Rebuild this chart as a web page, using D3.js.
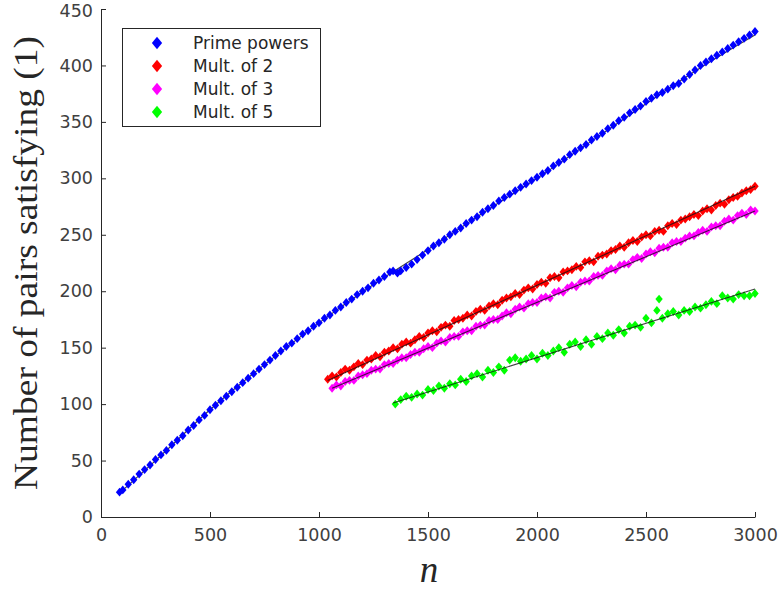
<!DOCTYPE html>
<html><head><meta charset="utf-8">
<script src="https://cdn.jsdelivr.net/npm/d3@7"></script>
<style>body{margin:0;background:#fff}</style>
</head><body><svg id="c" width="780" height="592"></svg>
<script>
const xTicks = [0, 500, 1000, 1500, 2000, 2500, 3000];
const yTicks = [0, 50, 100, 150, 200, 250, 300, 350, 400, 450];
const legendLabels = ["Prime powers", "Mult. of 2", "Mult. of 3", "Mult. of 5"];
const seriesColors = ["#0000ff", "#ff0000", "#ff00ff", "#00ff00"];
const xLabel = "n";
const yLabel = "Number of pairs satisfying (1)";

const primePowers = [[85,22],[100,24],[125,29],[150,33],[175,38],[200,42],[225,46],[250,51],[275,55],[300,59],[325,64],[350,68],[375,72],[400,77],[425,81],[450,86],[475,90],[500,95],[525,99],[550,103],[575,107],[600,111],[625,115],[650,119],[675,123],[700,127],[725,131],[750,135],[775,139],[800,143],[825,147],[850,151],[875,154],[900,158],[925,162],[950,165],[975,169],[1000,172],[1025,176],[1050,179],[1075,183],[1100,186],[1125,190],[1150,193],[1175,197],[1200,200],[1225,203],[1250,207],[1275,210],[1300,213],[1325,217],[1340,218],[1360,216],[1375,218],[1400,221],[1425,224],[1450,228],[1475,232],[1500,236],[1525,240],[1550,243],[1575,246],[1600,250],[1625,253],[1650,256],[1675,260],[1700,263],[1725,266],[1750,270],[1775,273],[1800,276],[1825,280],[1850,283],[1875,286],[1900,289],[1925,292],[1950,295],[1975,298],[2000,301],[2025,304],[2050,307],[2075,311],[2100,314],[2125,317],[2150,321],[2175,324],[2200,327],[2225,330],[2250,334],[2275,337],[2300,340],[2325,344],[2350,347],[2375,351],[2400,354],[2425,358],[2450,361],[2475,364],[2500,368],[2525,371],[2550,374],[2575,376],[2600,379],[2625,382],[2650,384],[2675,388],[2700,392],[2725,396],[2750,400],[2775,403],[2800,406],[2825,409],[2850,412],[2875,415],[2900,418],[2925,421],[2950,424],[2975,427],[3000,430]];

const mult2 = [[1040,122],[1060,125],[1080,124],[1100,128],[1120,131],[1140,130],[1160,133],[1180,136],[1200,135],[1220,139],[1240,140],[1260,143],[1280,142],[1300,146],[1320,147],[1340,150],[1360,149],[1380,153],[1400,155],[1420,154],[1440,157],[1460,160],[1480,159],[1500,163],[1520,165],[1540,164],[1560,168],[1580,170],[1600,169],[1620,174],[1640,175],[1660,176],[1680,179],[1700,178],[1720,182],[1740,184],[1760,183],[1780,187],[1800,189],[1820,188],[1840,192],[1860,194],[1880,195],[1900,198],[1920,197],[1940,201],[1960,203],[1980,202],[2000,206],[2020,208],[2040,207],[2060,212],[2080,213],[2100,212],[2120,217],[2140,218],[2160,219],[2180,222],[2200,221],[2220,226],[2240,227],[2260,226],[2280,231],[2300,232],[2320,233],[2340,236],[2360,237],[2380,240],[2400,239],[2420,243],[2440,245],[2460,244],[2480,248],[2500,250],[2520,249],[2540,253],[2560,254],[2580,253],[2600,258],[2620,260],[2640,259],[2660,263],[2680,264],[2700,266],[2720,268],[2740,267],[2760,271],[2780,273],[2800,272],[2820,276],[2840,278],[2860,277],[2880,281],[2900,283],[2920,284],[2940,287],[2960,289],[2980,290],[3000,293]];

const mult3 = [[1060,114],[1080,117],[1100,116],[1120,120],[1140,121],[1160,121],[1180,125],[1200,126],[1220,127],[1240,130],[1260,131],[1280,131],[1300,135],[1320,136],[1340,136],[1360,139],[1380,141],[1400,141],[1420,144],[1440,146],[1460,146],[1480,149],[1500,151],[1520,150],[1540,154],[1560,156],[1580,155],[1600,159],[1620,160],[1640,160],[1660,164],[1680,165],[1700,165],[1720,169],[1740,170],[1760,170],[1780,174],[1800,175],[1820,175],[1840,178],[1860,181],[1880,180],[1900,184],[1920,186],[1940,185],[1960,189],[1980,190],[2000,190],[2020,194],[2040,195],[2060,194],[2080,199],[2100,200],[2120,199],[2140,203],[2160,205],[2180,204],[2200,208],[2220,209],[2240,209],[2260,213],[2280,214],[2300,214],[2320,218],[2340,220],[2360,219],[2380,223],[2400,224],[2420,224],[2440,228],[2460,230],[2480,229],[2500,233],[2520,235],[2540,234],[2560,238],[2580,239],[2600,239],[2620,243],[2640,244],[2660,244],[2680,247],[2700,249],[2720,249],[2740,252],[2760,254],[2780,253],[2800,257],[2820,258],[2840,258],[2860,262],[2880,264],[2900,263],[2920,267],[2940,269],[2960,268],[2980,272],[3000,271]];

const mult5 = [[1350,100],[1375,104],[1400,107],[1425,106],[1450,109],[1475,108],[1500,113],[1525,112],[1550,116],[1575,114],[1600,118],[1625,117],[1650,122],[1675,120],[1700,125],[1725,127],[1750,124],[1775,130],[1800,128],[1825,133],[1850,130],[1875,139],[1900,141],[1925,138],[1950,140],[1975,143],[2000,140],[2025,145],[2050,143],[2075,147],[2100,150],[2125,146],[2150,153],[2175,155],[2200,151],[2225,157],[2250,153],[2275,160],[2300,158],[2325,163],[2350,161],[2375,166],[2400,163],[2425,169],[2450,170],[2475,168],[2500,176],[2525,172],[2550,183],[2560,193],[2575,176],[2600,180],[2625,182],[2650,179],[2675,183],[2700,182],[2725,186],[2750,185],[2775,188],[2800,191],[2825,189],[2850,196],[2875,194],[2900,193],[2925,197],[2950,196],[2975,196],[3000,198]];

const primeFit = [[90,22],[250,50],[500,95],[750,135],[1000,172],[1250,206],[1500,237],[1750,269],[2000,300],[2250,333],[2500,366],[2750,398],[3000,427]];
const mult2Fit = [[1040,121],[3000,293]];
const mult3Fit = [[1060,114],[3000,271]];
const mult5Fit = [[1340,101],[3000,202]];

const svg = d3.select("#c");
const defs = svg.append("defs");
defs.append("filter").attr("id", "soft").attr("x", "-5%").attr("y", "-5%").attr("width", "110%").attr("height", "110%")
  .append("feGaussianBlur").attr("stdDeviation", 0.55);

const x = d3.scaleLinear().domain([0, 3000]).range([101, 755]);
const y = d3.scaleLinear().domain([0, 450]).range([517, 9]);

const diamond = {
  draw(ctx, size) {
    const r = Math.sqrt(size / 2);
    ctx.moveTo(0, -r * 1.15); ctx.lineTo(r * 0.95, 0); ctx.lineTo(0, r * 1.15); ctx.lineTo(-r * 0.95, 0); ctx.closePath();
  }
};

const series = [primePowers, mult2, mult3, mult5];
const fits = [primeFit, mult2Fit, mult3Fit, mult5Fit];
const marker = d3.symbol().type(diamond).size(30);
const line = d3.line().x(d => x(d[0])).y(d => y(d[1])).curve(d3.curveMonotoneX);

const plot = svg.append("g").attr("filter", "url(#soft)");
// prime powers fit sits mostly beneath its dense markers
plot.append("path").datum(primeFit).attr("d", line)
  .attr("fill", "none").attr("stroke", "#111").attr("stroke-width", 1.1).attr("stroke-opacity", 0.8);
series.forEach((data, i) => {
  plot.append("g").selectAll("path").data(data).join("path")
    .attr("d", marker)
    .attr("transform", d => `translate(${x(d[0])},${y(d[1])})`)
    .attr("fill", seriesColors[i]);
});
fits.slice(1).forEach(f => {
  plot.append("path").datum(f).attr("d", line)
    .attr("fill", "none").attr("stroke", "#111").attr("stroke-width", 1.1).attr("stroke-opacity", 0.8);
});

const axisColor = "#262626";
const gx = svg.append("g").attr("transform", "translate(0,517)")
  .call(d3.axisBottom(x).tickValues(xTicks).tickSizeInner(-5).tickSizeOuter(0).tickPadding(12).tickFormat(d3.format("d")));
const gy = svg.append("g").attr("transform", "translate(101,0)")
  .call(d3.axisLeft(y).tickValues(yTicks).tickSizeInner(-5).tickSizeOuter(0).tickPadding(8).tickFormat(d3.format("d")));
[gx, gy].forEach(g => {
  g.select(".domain").attr("stroke", axisColor);
  g.selectAll(".tick line").attr("stroke", axisColor);
  g.selectAll(".tick text").attr("fill", "#404040").style("font-family", "DejaVu Sans").style("font-size", "17.5px");
});
gy.selectAll(".tick text").filter(d => d === 450).attr("dy", "0.4em");

svg.append("text")
  .attr("transform", "translate(37,263) rotate(-90)")
  .attr("text-anchor", "middle")
  .attr("textLength", 454).attr("lengthAdjust", "spacingAndGlyphs")
  .style("font-family", "Liberation Serif").style("font-size", "33px").attr("fill", "#262626")
  .text(yLabel);

svg.append("text")
  .attr("x", 429).attr("y", 582).attr("text-anchor", "middle")
  .style("font-family", "Liberation Serif").style("font-style", "italic").style("font-size", "37px").attr("fill", "#262626")
  .text(xLabel);

const lg = svg.append("g");
lg.append("rect").attr("x", 122.5).attr("y", 28.5).attr("width", 198).attr("height", 98)
  .attr("fill", "#fff").attr("stroke", axisColor).attr("stroke-width", 1);
const legendMarker = d3.symbol().type(diamond).size(58);
legendLabels.forEach((lab, i) => {
  const cy = 43 + i * 23;
  lg.append("path").attr("d", legendMarker).attr("transform", `translate(157,${cy})`).attr("fill", seriesColors[i]).attr("filter", "url(#soft)");
  lg.append("text").attr("x", 193).attr("y", cy + 6)
    .style("font-family", "DejaVu Sans").style("font-size", "17px").attr("fill", "#262626").text(lab);
});
</script>
</body></html>
